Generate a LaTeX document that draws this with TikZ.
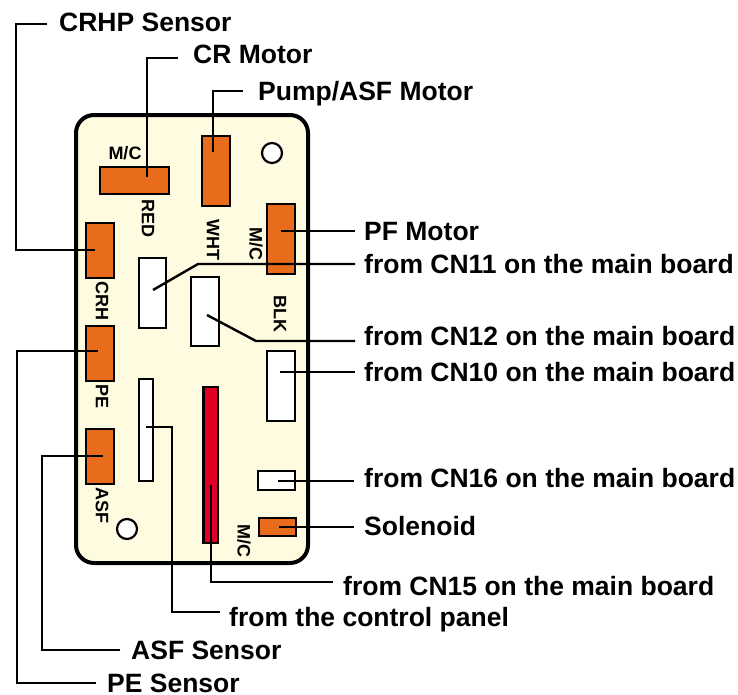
\documentclass[tikz,border=0pt]{standalone}
\usepackage{fontspec}
\setmainfont{Liberation Sans}
\definecolor{boardcream}{RGB}{254,251,224}
\definecolor{plugorange}{RGB}{232,108,28}
\definecolor{plugred}{RGB}{224,0,36}

\begin{document}
\begin{tikzpicture}[x=1pt, y=-1pt,
  plug/.style={draw=black, line width=2.2pt, rectangle, inner sep=0pt, fill=#1},
  hole/.style={draw=black, line width=2.2pt, circle, fill=white, inner sep=0pt, minimum size=20pt},
  lead/.style={black, line width=2.4pt},
  callout/.style={anchor=west, inner sep=0pt, font=\fontsize{26.5}{26.5}\bfseries\selectfont, text height=19pt, text depth=0pt},
  tag/.style={inner sep=0pt, font=\fontsize{18}{18}\bfseries\selectfont},
  sidetag/.style={tag, rotate=-90}]
  \useasboundingbox (0,0) rectangle (738,694);

  % 1) Board
  \draw[fill=boardcream, draw=black, line width=4pt, rounded corners=18pt] (76,115) rectangle (308,563);
  \node[hole] (holetop) at (272,153) {};
  \node[hole] (holebottom) at (127,529) {};

  % 2) Connectors on the board
  \node[plug=plugorange, minimum width=69pt, minimum height=27pt] (crmotor) at (134.5,180.5) {};
  \node[plug=plugorange, minimum width=28pt, minimum height=70pt] (pump) at (216,171) {};
  \node[plug=plugorange, minimum width=28pt, minimum height=70pt] (pfmotor) at (281,239) {};
  \node[plug=plugorange, minimum width=28pt, minimum height=55pt] (crh) at (100,250.5) {};
  \node[plug=plugorange, minimum width=28pt, minimum height=55pt] (pe) at (100,353.5) {};
  \node[plug=plugorange, minimum width=28pt, minimum height=55pt] (asf) at (100,456.5) {};
  \node[plug=plugorange, minimum width=37pt, minimum height=18pt] (solenoid) at (277.5,527) {};
  \node[plug=white, minimum width=27pt, minimum height=70pt] (cnelevan) at (152.5,293) {};
  \node[plug=white, minimum width=28pt, minimum height=69pt] (cntwelve) at (205,311.5) {};
  \node[plug=white, minimum width=28pt, minimum height=70pt] (cnten) at (281,386) {};
  \node[plug=white, minimum width=14pt, minimum height=102pt] (panel) at (146,430) {};
  \node[plug=white, minimum width=37pt, minimum height=19pt] (cnsixteen) at (276.5,480.5) {};
  \node[plug=plugred, minimum width=14.5pt, minimum height=156pt] (cnfifteen) at (210.75,465) {};

  % 3) Small tags
  \node[tag] (tagcr) at (125,153) {M/C};
  \node[sidetag] (tagred) at (148,218) {RED};
  \node[sidetag] (tagwht) at (213,240) {WHT};
  \node[sidetag] (tagpf) at (256,244) {M/C};
  \node[sidetag] (tagcrh) at (102,301) {CRH};
  \node[sidetag] (tagblk) at (280,314) {BLK};
  \node[sidetag] (tagpe) at (102,396) {PE};
  \node[sidetag] (tagasf) at (102,505) {ASF};
  \node[sidetag] (tagfifteen) at (244,541) {M/C};

  % 4) Callouts
  \node[callout] (lblcrhp) at (59,22) {CRHP Sensor};
  \node[callout] (lblcr) at (193,54) {CR Motor};
  \node[callout] (lblpump) at (258,91) {Pump/ASF Motor};
  \node[callout] (lblpf) at (364,231) {PF Motor};
  \node[callout] (lblcnelevan) at (364,264) {from CN11 on the main board};
  \node[callout] (lblcntwelve) at (364,336) {from CN12 on the main board};
  \node[callout] (lblcnten) at (364,372) {from CN10 on the main board};
  \node[callout] (lblcnsixteen) at (364,478) {from CN16 on the main board};
  \node[callout] (lblsolenoid) at (364,526) {Solenoid};
  \node[callout] (lblcnfifteen) at (343,586) {from CN15 on the main board};
  \node[callout] (lblpanel) at (229,617) {from the control panel};
  \node[callout] (lblasf) at (131,650) {ASF Sensor};
  \node[callout] (lblpe) at (107,682.5) {PE Sensor};

  % 5) Leader lines
  \coordinate (endcrh) at (95,250);
  \coordinate (endcr) at (147,177);
  \coordinate (endpump) at (213,152);
  \coordinate (endpf) at (281,231);
  \coordinate (endcnelevan) at (153,290);
  \coordinate (endcntwelve) at (207,315);
  \coordinate (endcnten) at (280,372);
  \coordinate (endcnsixteen) at (278,481);
  \coordinate (endsolenoid) at (279,527);
  \coordinate (endcnfifteen) at (211,485);
  \coordinate (endpanel) at (146,427);
  \coordinate (endasf) at (103,456);
  \coordinate (endpe) at (98,351);

  \draw[lead] ([xshift=-12pt,yshift=-2pt]lblcrhp.west) -- ++(-31,0) |- (endcrh);
  \draw[lead] ([xshift=-15pt,yshift=-4pt]lblcr.west) -| (endcr);
  \draw[lead] ([xshift=-15pt]lblpump.west) -| (endpump);
  \draw[lead] ([xshift=-9pt]lblpf.west) -- (endpf);
  \draw[lead] ([xshift=-9pt]lblcnelevan.west) -- (198,264) -- (endcnelevan);
  \draw[lead] ([xshift=-9pt,yshift=-5pt]lblcntwelve.west) -- (256,341) -- (endcntwelve);
  \draw[lead] ([xshift=-9pt]lblcnten.west) -- (endcnten);
  \draw[lead] ([xshift=-10pt,yshift=-3pt]lblcnsixteen.west) -- (endcnsixteen);
  \draw[lead] ([xshift=-10pt,yshift=-1pt]lblsolenoid.west) -- (endsolenoid);
  \draw[lead] ([xshift=-10pt,yshift=4pt]lblcnfifteen.west) -| (endcnfifteen);
  \draw[lead] ([xshift=-9pt,yshift=5pt]lblpanel.west) -| (172,427) -- (endpanel);
  \draw[lead] ([xshift=-11pt]lblasf.west) -| (42,456) -- (endasf);
  \draw[lead] ([xshift=-11pt,yshift=-0.5pt]lblpe.west) -| (17,351) -- (endpe);
\end{tikzpicture}
\end{document}
